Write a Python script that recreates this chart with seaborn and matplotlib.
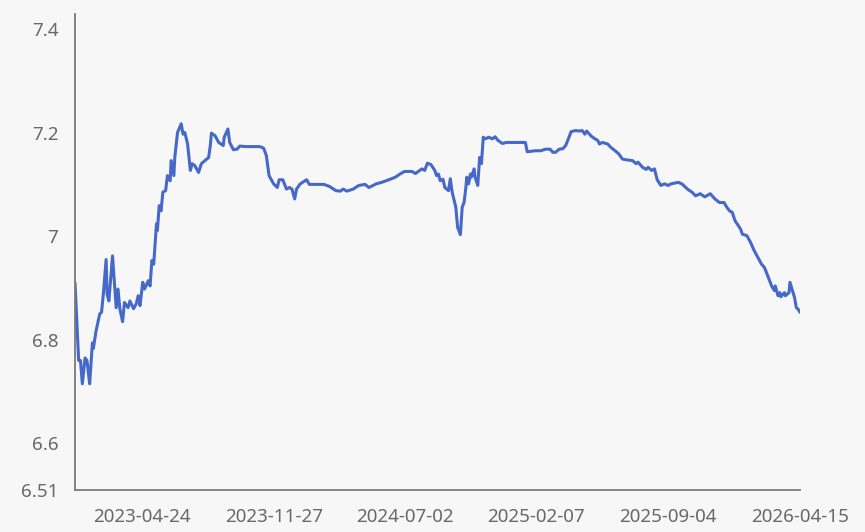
import numpy as np
import pandas as pd
import matplotlib
matplotlib.use("Agg")
import matplotlib.pyplot as plt
import seaborn as sns


# ==============================================================================
#                                                                           DATA
# ==============================================================================
dates = [
    "2023-01-03", "2023-01-09", "2023-01-11", "2023-01-13", "2023-01-18",
    "2023-01-20", "2023-01-30", "2023-02-01", "2023-02-06", "2023-02-07",
    "2023-02-10", "2023-02-16", "2023-02-20", "2023-02-22", "2023-02-27",
    "2023-02-28", "2023-03-02", "2023-03-08", "2023-03-14", "2023-03-16",
    "2023-03-20", "2023-03-23", "2023-03-27", "2023-03-31", "2023-04-04",
    "2023-04-11", "2023-04-14", "2023-04-18", "2023-04-20", "2023-04-25",
    "2023-04-27", "2023-05-08", "2023-05-10", "2023-05-12", "2023-05-16",
    "2023-05-19", "2023-05-22", "2023-05-24", "2023-05-26", "2023-05-30",
    "2023-06-02", "2023-06-06", "2023-06-09", "2023-06-12", "2023-06-15",
    "2023-06-16", "2023-06-21", "2023-06-29", "2023-07-03", "2023-07-05",
    "2023-07-10", "2023-07-13", "2023-07-17", "2023-07-20", "2023-07-26",
    "2023-07-31", "2023-08-04", "2023-08-10", "2023-08-14", "2023-08-15",
    "2023-08-21", "2023-08-25", "2023-09-01", "2023-09-04", "2023-09-08",
    "2023-09-12", "2023-09-18", "2023-09-22", "2023-09-27", "2023-10-16",
    "2023-10-26", "2023-11-06", "2023-11-10", "2023-11-15", "2023-11-20",
    "2023-11-24", "2023-11-27", "2023-12-01", "2023-12-05", "2023-12-11",
    "2023-12-15", "2023-12-20", "2023-12-25", "2023-12-28", "2024-01-02",
    "2024-01-08", "2024-01-17", "2024-01-22", "2024-01-30", "2024-02-07",
    "2024-02-21", "2024-02-29", "2024-03-11", "2024-03-18", "2024-03-21",
    "2024-03-27", "2024-04-09", "2024-04-17", "2024-04-26", "2024-05-07",
    "2024-05-17", "2024-05-27", "2024-06-06", "2024-06-18", "2024-06-25",
    "2024-07-02", "2024-07-12", "2024-07-18", "2024-07-23", "2024-07-29",
    "2024-08-01", "2024-08-06", "2024-08-12", "2024-08-16", "2024-08-20",
    "2024-08-22", "2024-08-26", "2024-08-29", "2024-09-02", "2024-09-06",
    "2024-09-10", "2024-09-12", "2024-09-20", "2024-09-24", "2024-09-27",
    "2024-10-08", "2024-10-10", "2024-10-14", "2024-10-15", "2024-10-17",
    "2024-10-21", "2024-10-22", "2024-10-25", "2024-10-28", "2024-10-31",
    "2024-11-04", "2024-11-06", "2024-11-08", "2024-11-12", "2024-11-18",
    "2024-11-22", "2024-11-27", "2024-12-02", "2024-12-09", "2024-12-13",
    "2024-12-23", "2025-01-03", "2025-01-14", "2025-01-16", "2025-02-06",
    "2025-02-14", "2025-02-21", "2025-02-28", "2025-03-05", "2025-03-10",
    "2025-03-14", "2025-03-20", "2025-03-25", "2025-03-28", "2025-04-02",
    "2025-04-10", "2025-04-16", "2025-04-21", "2025-04-24", "2025-04-28",
    "2025-05-08", "2025-05-14", "2025-05-19", "2025-05-21", "2025-05-26",
    "2025-06-04", "2025-06-09", "2025-06-16", "2025-06-20", "2025-06-26",
    "2025-07-04", "2025-07-11", "2025-07-17", "2025-07-21", "2025-07-28",
    "2025-08-01", "2025-08-05", "2025-08-11", "2025-08-14", "2025-08-19",
    "2025-08-25", "2025-08-29", "2025-09-04", "2025-09-09", "2025-09-19",
    "2025-09-25", "2025-10-13", "2025-10-20", "2025-10-24", "2025-10-31",
    "2025-11-07", "2025-11-17", "2025-11-24", "2025-12-01", "2025-12-08",
    "2025-12-11", "2025-12-16", "2025-12-19", "2025-12-24", "2026-01-05",
    "2026-01-07", "2026-01-14", "2026-01-20", "2026-01-26", "2026-02-02",
    "2026-02-05", "2026-02-10", "2026-02-13", "2026-03-02", "2026-03-05",
    "2026-03-06", "2026-03-11", "2026-03-13", "2026-03-16", "2026-03-20",
    "2026-03-23", "2026-03-27", "2026-03-30", "2026-04-07", "2026-04-09",
    "2026-04-13", "2026-04-15",
]

rates = [
    6.910, 6.760, 6.760, 6.715, 6.765,
    6.760, 6.746, 6.715, 6.794, 6.783,
    6.817, 6.850, 6.853, 6.889, 6.955,
    6.889, 6.875, 6.962, 6.862, 6.898,
    6.860, 6.835, 6.872, 6.862, 6.875,
    6.860, 6.870, 6.885, 6.866, 6.911,
    6.898, 6.914, 6.904, 6.953, 6.946,
    7.024, 7.011, 7.059, 7.049, 7.085,
    7.088, 7.117, 7.107, 7.146, 7.117,
    7.152, 7.200, 7.217, 7.197, 7.200,
    7.178, 7.127, 7.140, 7.136, 7.123,
    7.140, 7.146, 7.152, 7.178, 7.199,
    7.194, 7.181, 7.175, 7.191, 7.207,
    7.181, 7.167, 7.168, 7.174, 7.173,
    7.173, 7.173, 7.170, 7.156, 7.117,
    7.104, 7.101, 7.094, 7.109, 7.109,
    7.091, 7.094, 7.091, 7.072, 7.091,
    7.101, 7.109, 7.100, 7.100, 7.100,
    7.100, 7.096, 7.088, 7.087, 7.091,
    7.087, 7.091, 7.098, 7.100, 7.094,
    7.101, 7.104, 7.109, 7.114, 7.120,
    7.125, 7.125, 7.121, 7.125, 7.130,
    7.127, 7.141, 7.138, 7.127, 7.117,
    7.120, 7.107, 7.110, 7.094, 7.088,
    7.111, 7.085, 7.056, 7.017, 7.003,
    7.056, 7.065, 7.094, 7.114, 7.101,
    7.120, 7.114, 7.130, 7.114, 7.098,
    7.152, 7.140, 7.191, 7.188, 7.191,
    7.188, 7.192, 7.185, 7.179, 7.181,
    7.181, 7.181, 7.181, 7.163, 7.165,
    7.165, 7.168, 7.168, 7.162, 7.162,
    7.168, 7.169, 7.175, 7.188, 7.202,
    7.204, 7.203, 7.204, 7.197, 7.203,
    7.193, 7.188, 7.185, 7.178, 7.181,
    7.178, 7.172, 7.165, 7.159, 7.149,
    7.147, 7.146, 7.140, 7.143, 7.133,
    7.129, 7.133, 7.127, 7.130, 7.109,
    7.098, 7.101, 7.098, 7.101, 7.104,
    7.101, 7.091, 7.085, 7.078, 7.082,
    7.076, 7.082, 7.072, 7.065, 7.065,
    7.056, 7.049, 7.046, 7.030, 7.014,
    7.004, 7.001, 6.988, 6.972, 6.956,
    6.946, 6.940, 6.927, 6.904, 6.895,
    6.904, 6.885, 6.891, 6.883, 6.891,
    6.885, 6.891, 6.911, 6.882, 6.862,
    6.859, 6.853,
]

# market closed weekdays (the axis is a trading-day category axis)
holidays = [
    "2023-01-02", "2023-01-23", "2023-01-24", "2023-01-25", "2023-01-26",
    "2023-01-27", "2023-04-05", "2023-05-01", "2023-05-02", "2023-05-03",
    "2023-06-22", "2023-06-23", "2023-09-29", "2023-10-02", "2023-10-03",
    "2023-10-04", "2023-10-05", "2023-10-06",
    "2024-01-01", "2024-02-09", "2024-02-12", "2024-02-13", "2024-02-14",
    "2024-02-15", "2024-02-16", "2024-04-04", "2024-04-05", "2024-05-01",
    "2024-05-02", "2024-05-03", "2024-06-10", "2024-09-16", "2024-09-17",
    "2024-10-01", "2024-10-02", "2024-10-03", "2024-10-04", "2024-10-07",
    "2025-01-01", "2025-01-28", "2025-01-29", "2025-01-30", "2025-01-31",
    "2025-02-03", "2025-02-04", "2025-04-04", "2025-05-01", "2025-05-02",
    "2025-05-05", "2025-06-02", "2025-10-01", "2025-10-02", "2025-10-03",
    "2025-10-06", "2025-10-07", "2025-10-08",
    "2026-01-01", "2026-01-02", "2026-02-16", "2026-02-17", "2026-02-18",
    "2026-02-19", "2026-02-20", "2026-02-23", "2026-04-06",
]

tick_dates = ["2023-04-24", "2023-11-27", "2024-07-02",
              "2025-02-07", "2025-09-04", "2026-04-15"]
y_ticks = [6.51, 6.6, 6.8, 7.0, 7.2, 7.4]

# ==============================================================================
#                                                                          STYLE
# ==============================================================================
BG = "#F7F7F8"
LINE = "#4668C8"
AXIS = "#7A7A7A"
TEXT = "#686868"

sns.set_style("white")
plt.rcParams["font.family"] = ["Noto Sans", "DejaVu Sans"]


def trading_pos(d):
    """Position of a date on the trading-day axis."""
    return np.busday_count(dates[0], d, holidays=holidays)


df = pd.DataFrame({"date": dates, "rate": rates})
df["pos"] = trading_pos(np.array(dates, dtype="datetime64[D]"))

fig = plt.figure(figsize=(8.65, 5.32), dpi=100, facecolor=BG)
ax = fig.add_axes([75 / 865, 42 / 532, (800 - 75) / 865, (490 - 14) / 532])
ax.set_facecolor(BG)

sns.lineplot(data=df, x="pos", y="rate", color=LINE, lw=2.2, ax=ax)

ax.set_xlim(0, trading_pos(tick_dates[-1]))
ax.set_ylim(6.51, 7.429)

ax.set_xticks([trading_pos(d) for d in tick_dates])
ax.set_xticklabels(tick_dates)
ax.set_yticks(y_ticks)
ax.set_yticklabels(["{:g}".format(v) for v in y_ticks])

ax.set_xlabel("")
ax.set_ylabel("")

# Spines
for side in ["top", "right"]:
    ax.spines[side].set_visible(False)
for side in ["left", "bottom"]:
    ax.spines[side].set_color(AXIS)
    ax.spines[side].set_linewidth(1.3)

ax.tick_params(axis="x", direction="out", length=5, width=1.3, color=AXIS,
               labelcolor=TEXT, labelsize=13.5, pad=8)
ax.tick_params(axis="y", length=0, labelcolor=TEXT, labelsize=13.5, pad=12)
ax.grid(False)

fig.savefig("out.png", dpi=100, facecolor=BG)
plt.close()
